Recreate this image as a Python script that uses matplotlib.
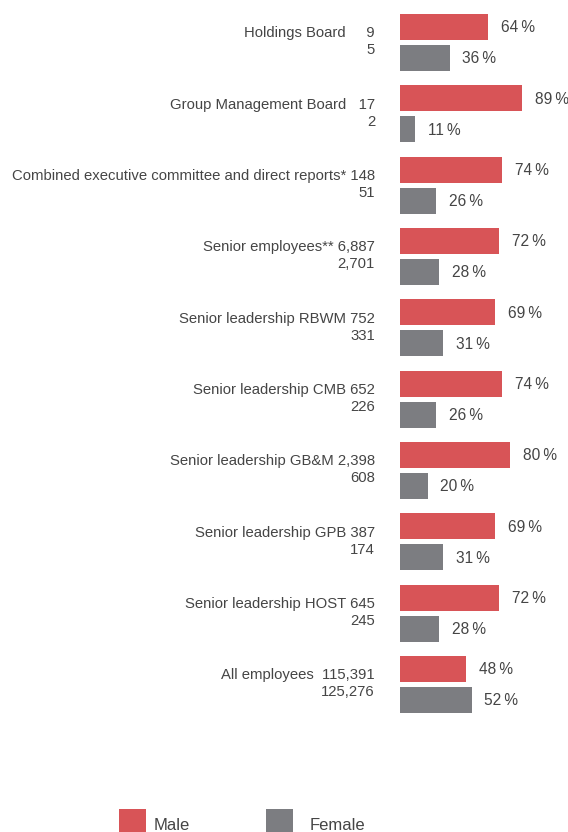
import matplotlib
matplotlib.use("Agg")
import matplotlib.pyplot as plt
from matplotlib.patches import Rectangle

categories = [
    "Holdings Board",
    "Group Management Board",
    "Combined executive committee and direct reports*",
    "Senior employees**",
    "Senior leadership RBWM",
    "Senior leadership CMB",
    "Senior leadership GB&M",
    "Senior leadership GPB",
    "Senior leadership HOST",
    "All employees",
]
male_counts = ["9", "17", "148", "6,887", "752", "652", "2,398", "387", "645", "115,391"]
female_counts = ["5", "2", "51", "2,701", "331", "226", "608", "174", "245", "125,276"]
male_pct = [64, 89, 74, 72, 69, 74, 80, 69, 72, 48]
female_pct = [36, 11, 26, 28, 31, 26, 20, 31, 28, 52]
separators = ["     ", "   ", " ", " ", " ", " ", " ", " ", " ", "  "]

RED = "#D85457"
GREY = "#7C7D81"
TXT = "#454545"

W, H = 568, 832
fig = plt.figure(figsize=(W / 100, H / 100), dpi=100)

px_per_pct = 1.375
pitch = 71.33
g0 = 42.5
ax = fig.add_axes([400 / W, 0, 168 / W, 1])
ax.set_xlim(0, 168 / px_per_pct)
ax.set_ylim((H - g0) / pitch, -g0 / pitch)
ax.axis("off")

off = 15.5 / pitch
bh = 26 / pitch
ys = list(range(len(categories)))
ax.barh([y - off for y in ys], male_pct, height=bh, color=RED, linewidth=0)
ax.barh([y + off for y in ys], female_pct, height=bh, color=GREY, linewidth=0)

font = ["Liberation Sans", "DejaVu Sans"]
fs_lab = 10.7
fs_pct = 11.2
gap = 13 / px_per_pct
lab_x = -25 / px_per_pct
for y, name, mc, fc, mp, fp, sep in zip(ys, categories, male_counts, female_counts,
                                         male_pct, female_pct, separators):
    ax.text(mp + gap, y - off + 0.8 / pitch, f"{mp}\u2009%", va="center", ha="left",
            fontsize=fs_pct, color=TXT, family=font)
    ax.text(fp + gap, y + off + 0.8 / pitch, f"{fp}\u2009%", va="center", ha="left",
            fontsize=fs_pct, color=TXT, family=font)
    ax.text(lab_x, y - 9 / pitch, f"{name}{sep}{mc}", va="center", ha="right",
            fontsize=fs_lab, color=TXT, family=font, clip_on=False)
    ax.text(lab_x, y + 8 / pitch, fc, va="center", ha="right",
            fontsize=fs_lab, color=TXT, family=font, clip_on=False)

# legend
for x0, tx, col, lab in [(119, 154, RED, "Male"), (266, 310, GREY, "Female")]:
    fig.patches.append(Rectangle((x0 / W, (H - 836) / H), 27 / W, 27 / H,
                                 transform=fig.transFigure, color=col, linewidth=0))
    fig.text(tx / W, (H - 825) / H, lab, va="center", ha="left",
             fontsize=12, color=TXT, family=font)

fig.savefig("out.png", dpi=100)
